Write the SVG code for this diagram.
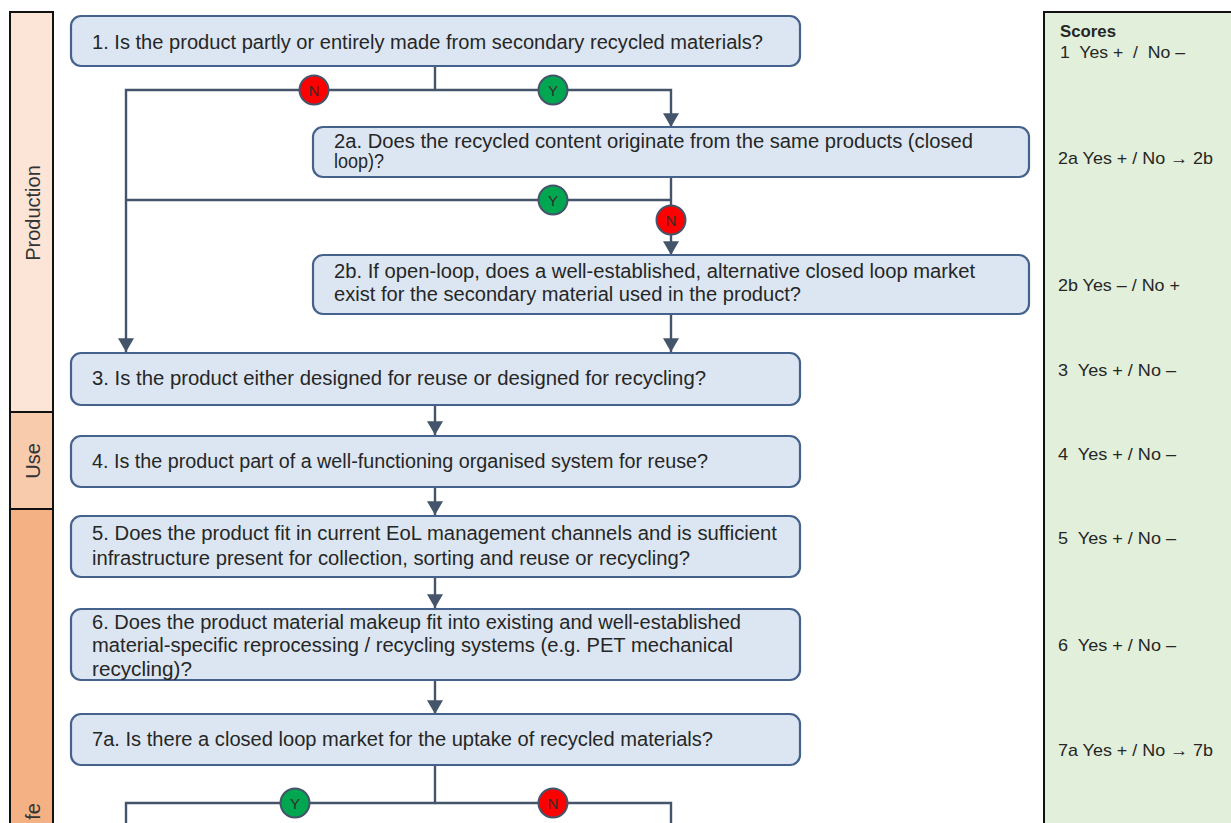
<svg xmlns="http://www.w3.org/2000/svg" width="1231" height="823" viewBox="0 0 1231 823">
<style>
.box{fill:#dce6f2;stroke:#44628c;stroke-width:2.2}
.t{font-family:"Liberation Sans",Arial,sans-serif;font-size:20px;fill:#262626}
.s{font-family:"Liberation Sans",Arial,sans-serif;font-size:17px;fill:#262626}
.band{stroke:#111;stroke-width:2}
.lbl{font-family:"Liberation Sans",Arial,sans-serif;font-size:20px;fill:#333}
.c{fill:none;stroke:#44546a;stroke-width:2.4}
.cy{fill:#00a650;stroke:#44546a;stroke-width:2}
.cn{fill:#ff0000;stroke:#44546a;stroke-width:2}
.ct{font-family:"Liberation Sans",Arial,sans-serif;font-size:15px;fill:#3a2a2a;text-anchor:middle}
</style>
<defs>
<marker id="ah" markerUnits="userSpaceOnUse" markerWidth="14" markerHeight="16" refX="12" refY="7" orient="auto" viewBox="0 0 12 14">
<path d="M0,0 L12,7 L0,14 z" fill="#44546a"/>
</marker>
</defs>
<rect width="1231" height="823" fill="#ffffff"/>

<g id="lifecycle-band">
<rect class="band" x="10" y="12" width="43" height="400" fill="#fce4d6"/>
<rect class="band" x="10" y="412" width="43" height="97" fill="#f8cbad"/>
<rect class="band" x="10" y="509" width="43" height="330" fill="#f4b183"/>
<text class="lbl" transform="translate(40,213) rotate(-90)" text-anchor="middle">Production</text>
<text class="lbl" transform="translate(40,461) rotate(-90)" text-anchor="middle">Use</text>
<text class="lbl" transform="translate(40,803) rotate(-90)" text-anchor="end">fe</text>
</g>

<g id="scores">
<rect x="1044" y="12" width="200" height="830" fill="#e2efda" stroke="#111" stroke-width="2"/>
<text class="s" x="1060" y="37" font-weight="bold" fill="#111" textLength="56" lengthAdjust="spacingAndGlyphs">Scores</text>
<text class="s" x="1060" y="58" xml:space="preserve" textLength="125" lengthAdjust="spacingAndGlyphs">1  Yes +  /  No –</text>
<text class="s" x="1058" y="164" textLength="155" lengthAdjust="spacingAndGlyphs">2a Yes + / No → 2b</text>
<text class="s" x="1058" y="291" textLength="122" lengthAdjust="spacingAndGlyphs">2b Yes – / No +</text>
<text class="s" x="1058" y="376" xml:space="preserve" textLength="118" lengthAdjust="spacingAndGlyphs">3  Yes + / No –</text>
<text class="s" x="1058" y="460" xml:space="preserve" textLength="118" lengthAdjust="spacingAndGlyphs">4  Yes + / No –</text>
<text class="s" x="1058" y="544" xml:space="preserve" textLength="118" lengthAdjust="spacingAndGlyphs">5  Yes + / No –</text>
<text class="s" x="1058" y="651" xml:space="preserve" textLength="118" lengthAdjust="spacingAndGlyphs">6  Yes + / No –</text>
<text class="s" x="1058" y="756" textLength="155" lengthAdjust="spacingAndGlyphs">7a Yes + / No → 7b</text>
</g>

<g id="connectors">
<path class="c" d="M435,66 V90"/>
<path class="c" d="M435,90 H126 V352" marker-end="url(#ah)"/>
<path class="c" d="M435,90 H671 V127" marker-end="url(#ah)"/>
<path class="c" d="M671,177 V255" marker-end="url(#ah)"/>
<path class="c" d="M671,200 H126"/>
<path class="c" d="M671,314 V352" marker-end="url(#ah)"/>
<path class="c" d="M435,405 V435" marker-end="url(#ah)"/>
<path class="c" d="M435,487 V515" marker-end="url(#ah)"/>
<path class="c" d="M435,577 V608" marker-end="url(#ah)"/>
<path class="c" d="M435,680 V714" marker-end="url(#ah)"/>
<path class="c" d="M435,765 V803 H126 V830"/>
<path class="c" d="M435,803 H671 V830"/>
</g>

<g id="badges">
<g id="b1n"><circle class="cn" cx="314" cy="90" r="14.5"/><text class="ct" x="314" y="95.5">N</text></g>
<g id="b1y"><circle class="cy" cx="553" cy="90" r="14.5"/><text class="ct" x="553" y="95.5">Y</text></g>
<g id="b2y"><circle class="cy" cx="553" cy="200" r="14.5"/><text class="ct" x="553" y="205.5">Y</text></g>
<g id="b2n"><circle class="cn" cx="671" cy="220" r="14.5"/><text class="ct" x="671" y="225.5">N</text></g>
<g id="b7y"><circle class="cy" cx="295" cy="803" r="14.5"/><text class="ct" x="295" y="808.5">Y</text></g>
<g id="b7n"><circle class="cn" cx="553" cy="803" r="14.5"/><text class="ct" x="553" y="808.5">N</text></g>
</g>

<g id="q1">
<rect class="box" x="71" y="16" width="729" height="50" rx="10"/>
<text class="t" x="92" y="49" textLength="671" lengthAdjust="spacingAndGlyphs">1. Is the product partly or entirely made from secondary recycled materials?</text>
</g>
<g id="q2a">
<rect class="box" x="313" y="127" width="716" height="50" rx="10"/>
<text class="t" x="334" y="148" textLength="639" lengthAdjust="spacingAndGlyphs">2a. Does the recycled content originate from the same products (closed</text>
<text class="t" x="334" y="168" textLength="50" lengthAdjust="spacingAndGlyphs">loop)?</text>
</g>
<g id="q2b">
<rect class="box" x="313" y="255" width="716" height="59" rx="10"/>
<text class="t" x="334" y="278" textLength="641" lengthAdjust="spacingAndGlyphs">2b. If open-loop, does a well-established, alternative closed loop market</text>
<text class="t" x="334" y="301" textLength="467" lengthAdjust="spacingAndGlyphs">exist for the secondary material used in the product?</text>
</g>
<g id="q3">
<rect class="box" x="71" y="353" width="729" height="52" rx="10"/>
<text class="t" x="92" y="385" textLength="614" lengthAdjust="spacingAndGlyphs">3. Is the product either designed for reuse or designed for recycling?</text>
</g>
<g id="q4">
<rect class="box" x="71" y="436" width="729" height="51" rx="10"/>
<text class="t" x="92" y="468" textLength="616" lengthAdjust="spacingAndGlyphs">4. Is the product part of a well-functioning organised system for reuse?</text>
</g>
<g id="q5">
<rect class="box" x="71" y="516" width="729" height="61" rx="10"/>
<text class="t" x="92" y="540" textLength="685" lengthAdjust="spacingAndGlyphs">5. Does the product fit in current EoL management channels and is sufficient</text>
<text class="t" x="92" y="565" textLength="598" lengthAdjust="spacingAndGlyphs">infrastructure present for collection, sorting and reuse or recycling?</text>
</g>
<g id="q6">
<rect class="box" x="71" y="609" width="729" height="71" rx="10"/>
<text class="t" x="92" y="629" textLength="649" lengthAdjust="spacingAndGlyphs">6. Does the product material makeup fit into existing and well-established</text>
<text class="t" x="92" y="652" textLength="641" lengthAdjust="spacingAndGlyphs">material-specific reprocessing / recycling systems (e.g. PET mechanical</text>
<text class="t" x="92" y="676" textLength="100" lengthAdjust="spacingAndGlyphs">recycling)?</text>
</g>
<g id="q7a">
<rect class="box" x="71" y="714" width="729" height="51" rx="10"/>
<text class="t" x="92" y="746" textLength="621" lengthAdjust="spacingAndGlyphs">7a. Is there a closed loop market for the uptake of recycled materials?</text>
</g>
</svg>
